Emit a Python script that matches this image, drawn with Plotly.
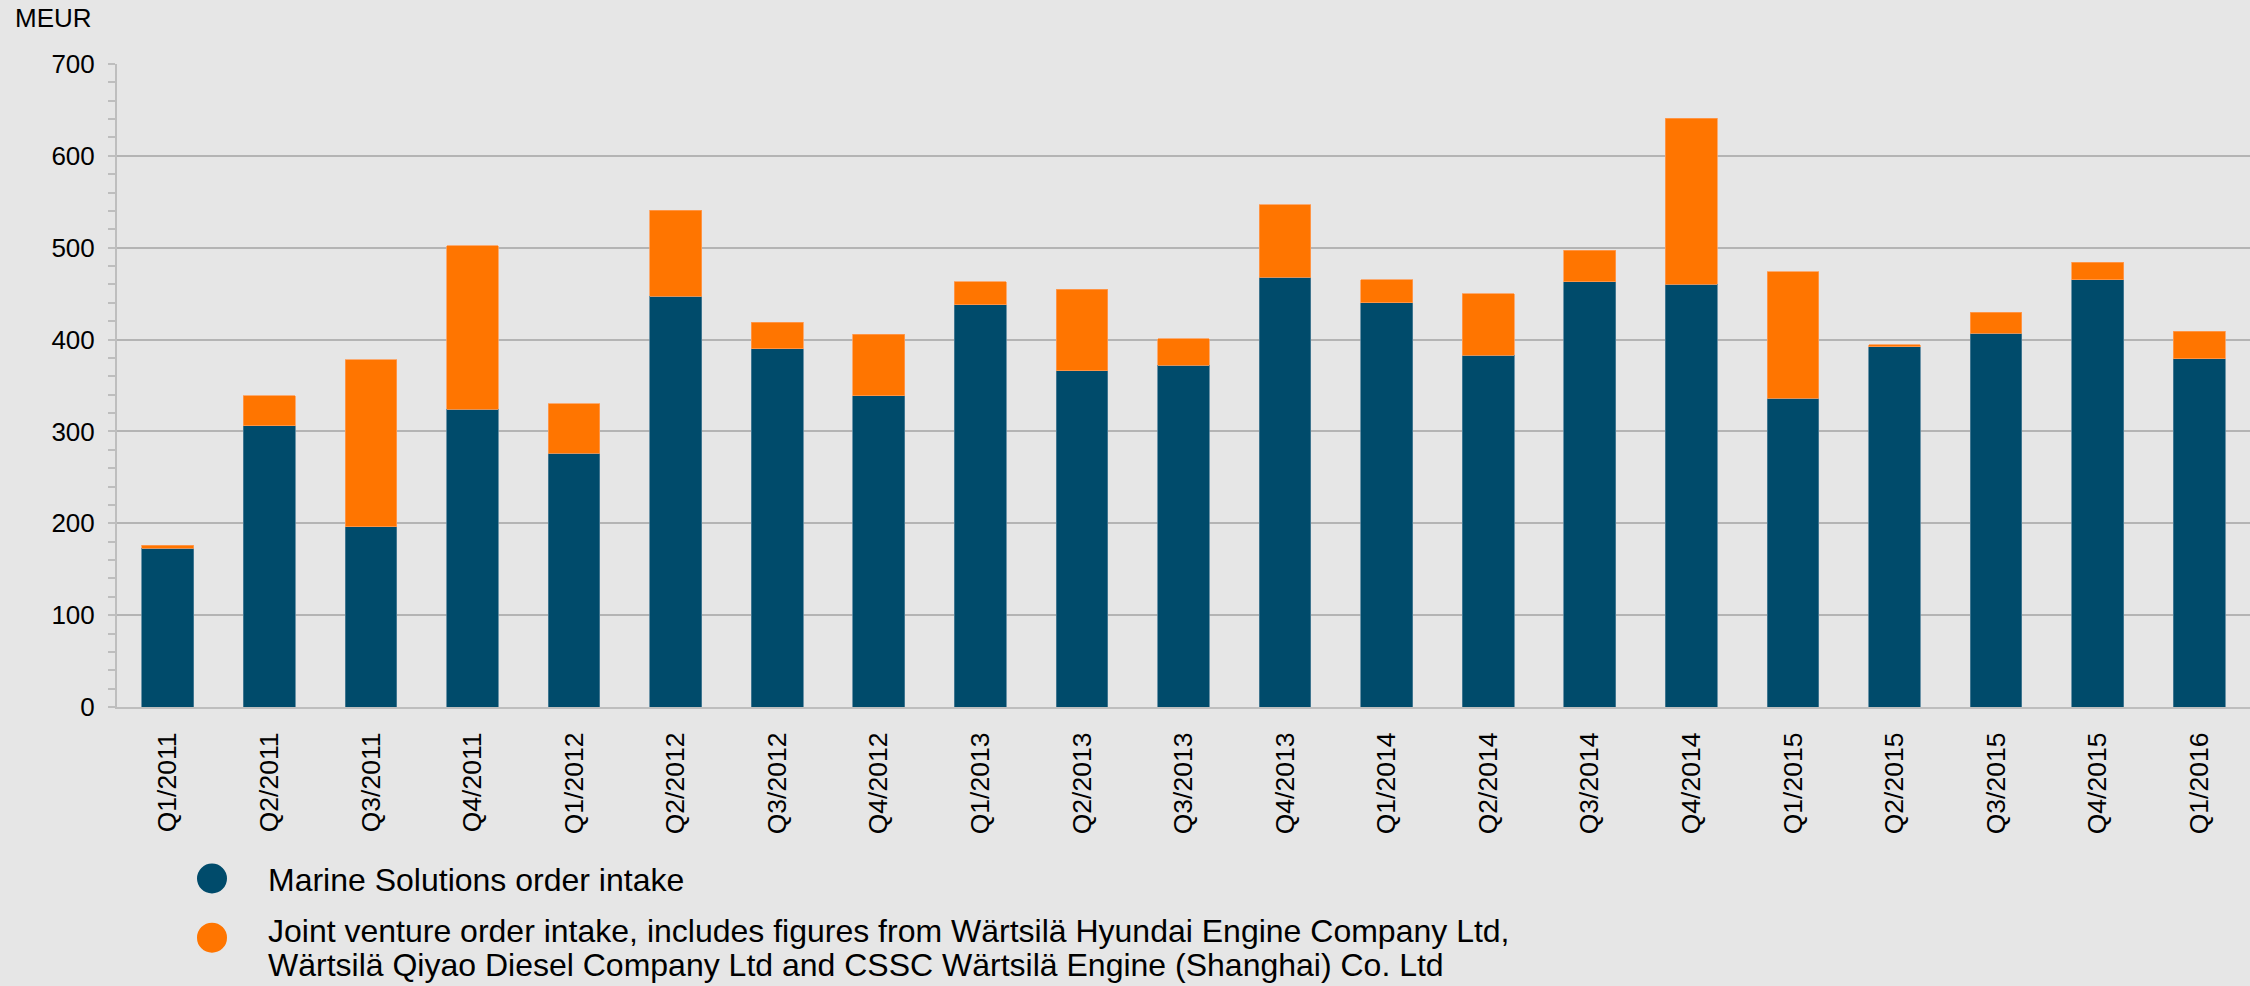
import plotly.graph_objects as go

categories = ["Q1/2011", "Q2/2011", "Q3/2011", "Q4/2011", "Q1/2012", "Q2/2012", "Q3/2012",
              "Q4/2012", "Q1/2013", "Q2/2013", "Q3/2013", "Q4/2013", "Q1/2014", "Q2/2014",
              "Q3/2014", "Q4/2014", "Q1/2015", "Q2/2015", "Q3/2015", "Q4/2015", "Q1/2016"]
marine = [173, 306, 196, 324, 276, 447, 390, 339, 438, 366, 372, 468, 440, 383, 463, 460,
          336, 392, 407, 465, 379]
joint_venture = [3, 33, 182, 178, 54, 94, 29, 67, 25, 89, 29, 79, 25, 67, 34, 181,
                 138, 2.5, 23, 19, 30]

legend_labels = ["Marine Solutions order intake",
                 "Joint venture order intake, includes figures from Wärtsilä Hyundai Engine Company Ltd,",
                 "Wärtsilä Qiyao Diesel Company Ltd and CSSC Wärtsilä Engine (Shanghai) Co. Ltd"]

BLUE = "#004B6B"
ORANGE = "#FF7500"
BG = "#E6E6E6"
GRID = "#B4B4B4"
FONT = "Liberation Sans, Arial, sans-serif"

W, H = 2250, 986
L, R, T, B = 117, 0, 64, 279
PW, PH = W - L - R, H - T - B


def px(x):
    return (x - L) / PW


def py(y):
    return (H - B - y) / PH


fig = go.Figure()
fig.add_trace(go.Bar(x=categories, y=marine, name=legend_labels[0],
                     marker=dict(color=BLUE, line=dict(color="#4f7f98", width=0.8))))
fig.add_trace(go.Bar(x=categories, y=joint_venture, name=legend_labels[1],
                     marker=dict(color=ORANGE, line=dict(color="#ff9c55", width=0.8))))

fig.update_layout(
    barmode="stack",
    bargap=0.49,
    width=W, height=H,
    margin=dict(l=L, r=R, t=T, b=B, pad=0),
    paper_bgcolor=BG, plot_bgcolor=BG,
    showlegend=False,
    font=dict(family=FONT, color="#000000"),
)

fig.update_xaxes(
    type="category",
    tickangle=-90,
    tickfont=dict(size=26.5, family=FONT, color="#000000"),
    showgrid=False,
    showline=True, linecolor="#BEBEBE", linewidth=2,
    ticks="", ticklabelstandoff=13,
)

fig.update_yaxes(
    range=[0, 700],
    dtick=100,
    tickfont=dict(size=26, family=FONT, color="#000000"),
    showgrid=True, gridcolor=GRID, gridwidth=1.5,
    zeroline=False,
    showline=True, linecolor="#BEBEBE", linewidth=2,
    ticks="outside", ticklen=7, tickcolor="#BEBEBE", tickwidth=1.5,
    ticklabelstandoff=8,
    minor=dict(dtick=20, ticks="outside", ticklen=7, tickcolor="#BEBEBE", tickwidth=1.5, showgrid=False),
)

# "MEUR" unit label
fig.add_annotation(text="MEUR", xref="paper", yref="paper",
                   x=px(13), y=py(18), xanchor="left", yanchor="middle",
                   showarrow=False, font=dict(size=26, family=FONT, color="#000000"))

# custom legend
circle_d = 30
for cy, color in [(878.5, BLUE), (937.7, ORANGE)]:
    fig.add_shape(type="circle", xref="paper", yref="paper",
                  xsizemode="pixel", ysizemode="pixel",
                  xanchor=px(212), yanchor=py(cy),
                  x0=-circle_d / 2, x1=circle_d / 2, y0=-circle_d / 2, y1=circle_d / 2,
                  fillcolor=color, line=dict(width=0))

for label, cy in zip(legend_labels, [880, 931, 965]):
    fig.add_annotation(text=label, xref="paper", yref="paper",
                       x=px(266), y=py(cy), xanchor="left", yanchor="middle",
                       showarrow=False, font=dict(size=32, family=FONT, color="#000000"))

fig.write_html("out.html",
               config={"displayModeBar": False},
               post_script="document.body.style.margin='0px';"
                           "document.body.style.padding='0px';"
                           "document.body.style.background='#E6E6E6';")
